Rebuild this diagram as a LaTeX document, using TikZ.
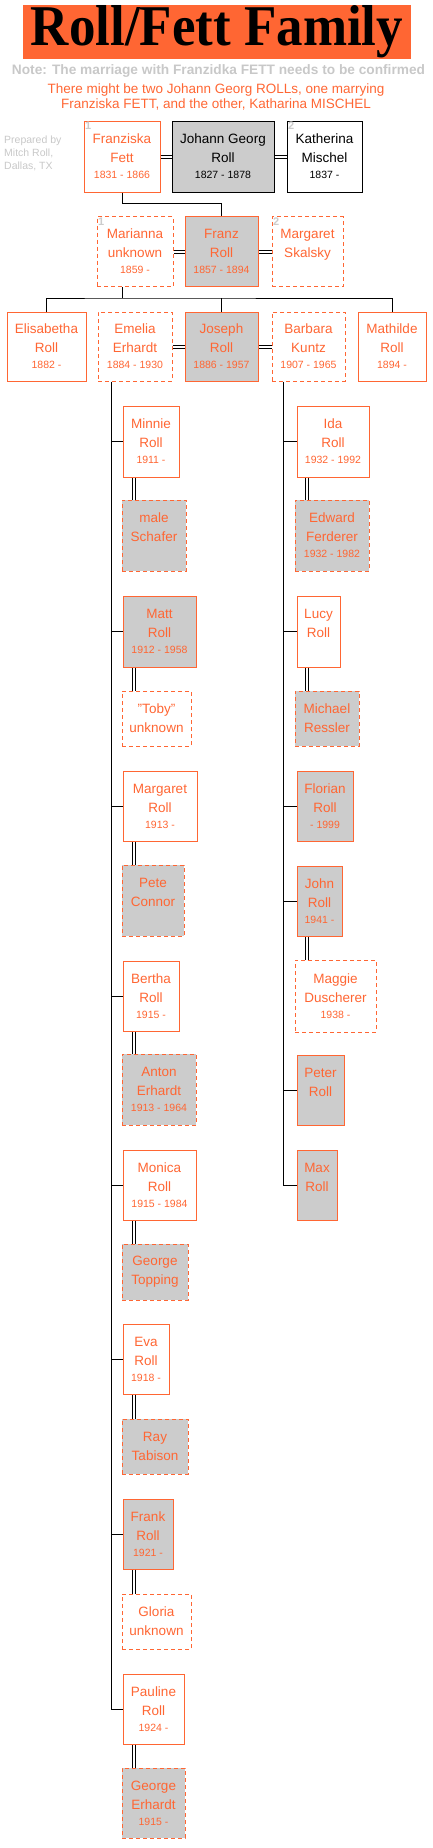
\documentclass[tikz,border=0pt]{standalone}
\usepackage{fontspec}
\setmainfont{Liberation Sans}
\newfontfamily\titlefont{Liberation Serif}
\usepackage{graphicx}

\definecolor{famorange}{HTML}{FF6633}
\definecolor{boxgray}{HTML}{CCCCCC}
\definecolor{notegray}{HTML}{C8C8C8}
\newcommand{\yrs}[1]{{\fontsize{10.5}{13}\selectfont #1}}

\begin{document}
\begin{tikzpicture}[x=1pt, y=-1pt,
			person/.style={draw=famorange, fill=white, text=famorange, line width=1pt, align=center, inner sep=0pt, font=\fontsize{13.5}{19}\selectfont},
			inlaw/.style={person, dash pattern=on 4pt off 3pt},
			heir/.style={fill=boxgray},
			elder/.style={person, draw=black, text=black},
			wifeno/.style={anchor=north west, inner sep=1.5pt, text=boxgray, font=\bfseries\fontsize{11}{11}\selectfont},
			link/.style={line width=1pt},
			wed/.style={double, double distance=2pt, line width=1pt}
			]
			\useasboundingbox (0,0) rectangle (433,1848);
			
			% Heading
			\node[fill=famorange, minimum width=388pt, minimum height=54pt, inner sep=0pt] (title) at (217,32) {\resizebox{372pt}{40pt}{\titlefont\bfseries Roll/Fett Family}};
			\node[text=notegray, inner sep=0pt] (note) at (218.5,71) {\resizebox{413pt}{!}{\bfseries Note: The marriage with Franzidka FETT needs to be confirmed}};
			\node[text=famorange, align=center, inner sep=0pt, font=\fontsize{13.5}{15}\selectfont] (doubt) at (216,96.5) {There might be two Johann Georg ROLLs, one marrying\\Franziska FETT, and the other, Katharina MISCHEL};
			\node[anchor=north west, align=left, inner sep=0pt, text=notegray, font=\fontsize{10.5}{13}\selectfont] (prep) at (4,136) {Prepared by\\Mitch Roll,\\Dallas, TX};
			
			% First generation
			\node[person, minimum width=76pt, minimum height=71pt] (fett) at (122,156.5) {Franziska\\Fett\\[-3pt]\yrs{1831 - 1866}};
			\node[elder, heir, minimum width=102pt, minimum height=71pt] (johann) at (223,156.5) {Johann Georg\\Roll\\[-3pt]\yrs{1827 - 1878}};
			\node[elder, minimum width=75pt, minimum height=71pt] (mischel) at (324.5,156.5) {Katherina\\Mischel\\[-3pt]\yrs{1837 -}};
			\node[wifeno] (no1a) at (fett.north west) {1};
			\node[wifeno] (no2a) at (mischel.north west) {2};
			
			% Second generation
			\node[inlaw, minimum width=76pt, minimum height=70pt] (marianna) at (135,251.5) {Marianna\\unknown\\[-3pt]\yrs{1859 -}};
			\node[person, heir, minimum width=73pt, minimum height=70pt] (franz) at (221.5,251.5) {Franz\\Roll\\[-3pt]\yrs{1857 - 1894}};
			\node[inlaw, minimum width=71pt, minimum height=70pt] (skalsky) at (307.5,251.5) {Margaret\\Skalsky\\[-3pt]\yrs{\mbox{}}};
			\node[wifeno] (no1b) at (marianna.north west) {1};
			\node[wifeno] (no2b) at (skalsky.north west) {2};
			
			% Third generation
			\node[person, minimum width=79pt, minimum height=69pt] (elisabetha) at (46.5,346.5) {Elisabetha\\Roll\\[-3pt]\yrs{1882 -}};
			\node[inlaw, minimum width=74pt, minimum height=69pt] (emelia) at (135,346.5) {Emelia\\Erhardt\\[-3pt]\yrs{1884 - 1930}};
			\node[person, heir, minimum width=73pt, minimum height=69pt] (joseph) at (221.5,346.5) {Joseph\\Roll\\[-3pt]\yrs{1886 - 1957}};
			\node[inlaw, minimum width=73pt, minimum height=69pt] (kuntz) at (308.5,346.5) {Barbara\\Kuntz\\[-3pt]\yrs{1907 - 1965}};
			\node[person, minimum width=68pt, minimum height=69pt] (mathilde) at (392,346.5) {Mathilde\\Roll\\[-3pt]\yrs{1894 -}};
			
			% Children of Emelia
			\node[person, minimum width=56pt, minimum height=71pt] (minnie) at (151,441.5) {Minnie\\Roll\\[-3pt]\yrs{1911 -}};
			\node[inlaw, heir, minimum width=64pt, minimum height=71pt] (schafer) at (154,535.5) {male\\Schafer\\[-3pt]\yrs{\mbox{}}};
			\node[person, heir, minimum width=73pt, minimum height=71pt] (matt) at (159.5,631.5) {Matt\\Roll\\[-3pt]\yrs{1912 - 1958}};
			\node[inlaw, minimum width=69pt, minimum height=55pt] (toby) at (156.5,718.5) {"Toby"\\unknown};
			\node[person, minimum width=74pt, minimum height=70pt] (margaret) at (160,806) {Margaret\\Roll\\[-3pt]\yrs{1913 -}};
			\node[inlaw, heir, minimum width=62pt, minimum height=71pt] (connor) at (153,900.5) {Pete\\Connor\\[-3pt]\yrs{\mbox{}}};
			\node[person, minimum width=56pt, minimum height=70pt] (bertha) at (151,996) {Bertha\\Roll\\[-3pt]\yrs{1915 -}};
			\node[inlaw, heir, minimum width=74pt, minimum height=71pt] (anton) at (159,1089.5) {Anton\\Erhardt\\[-3pt]\yrs{1913 - 1964}};
			\node[person, minimum width=73pt, minimum height=70pt] (monica) at (159.5,1185) {Monica\\Roll\\[-3pt]\yrs{1915 - 1984}};
			\node[inlaw, heir, minimum width=66pt, minimum height=56pt] (topping) at (155,1272) {George\\Topping};
			\node[person, minimum width=46pt, minimum height=70pt] (eva) at (146,1359) {Eva\\Roll\\[-3pt]\yrs{1918 -}};
			\node[inlaw, heir, minimum width=66pt, minimum height=55pt] (tabison) at (155,1446.5) {Ray\\Tabison};
			\node[person, heir, minimum width=50pt, minimum height=70pt] (frank) at (148,1534) {Frank\\Roll\\[-3pt]\yrs{1921 -}};
			\node[inlaw, minimum width=69pt, minimum height=55pt] (gloria) at (156.5,1621.5) {Gloria\\unknown};
			\node[person, minimum width=61pt, minimum height=70pt] (pauline) at (153.5,1709) {Pauline\\Roll\\[-3pt]\yrs{1924 -}};
			\node[inlaw, heir, minimum width=63pt, minimum height=70pt] (gerhardt) at (153.5,1803) {George\\Erhardt\\[-3pt]\yrs{1915 -}};
			
			% Children of Barbara
			\node[person, minimum width=72pt, minimum height=71pt] (ida) at (333,441.5) {Ida\\Roll\\[-3pt]\yrs{1932 - 1992}};
			\node[inlaw, heir, minimum width=74pt, minimum height=71pt] (ferderer) at (332,535.5) {Edward\\Ferderer\\[-3pt]\yrs{1932 - 1982}};
			\node[person, minimum width=43pt, minimum height=71pt] (lucy) at (318.5,631.5) {Lucy\\Roll\\[-3pt]\yrs{\mbox{}}};
			\node[inlaw, heir, minimum width=64pt, minimum height=55pt] (ressler) at (327,718.5) {Michael\\Ressler};
			\node[person, heir, minimum width=56pt, minimum height=70pt] (florian) at (325,806) {Florian\\Roll\\[-3pt]\yrs{- 1999}};
			\node[person, heir, minimum width=45pt, minimum height=70pt] (john) at (319.5,901) {John\\Roll\\[-3pt]\yrs{1941 -}};
			\node[inlaw, minimum width=81pt, minimum height=72pt] (duscherer) at (335.5,996) {Maggie\\Duscherer\\[-3pt]\yrs{1938 -}};
			\node[person, heir, minimum width=47pt, minimum height=70pt] (peter) at (320.5,1090) {Peter\\Roll\\[-3pt]\yrs{\mbox{}}};
			\node[person, heir, minimum width=40pt, minimum height=70pt] (max) at (317,1185) {Max\\Roll\\[-3pt]\yrs{\mbox{}}};
			
			% Marriages
			\draw[wed] (fett) -- (johann);
			\draw[wed] (johann) -- (mischel);
			\draw[wed] (marianna) -- (franz);
			\draw[wed] (franz) -- (skalsky);
			\draw[wed] (emelia) -- (joseph);
			\draw[wed] (joseph) -- (kuntz);
			\foreach \a/\b in {minnie/schafer, matt/toby, margaret/connor, bertha/anton, monica/topping, eva/tabison, frank/gloria, pauline/gerhardt}
				\draw[wed] ([xshift=11.5pt]\a.south west) -- ([xshift=11.5pt]\a.south west |- \b.north);
			\foreach \a/\b in {ida/ferderer, lucy/ressler, john/duscherer}
				\draw[wed] ([xshift=10.5pt]\a.south west) -- ([xshift=10.5pt]\a.south west |- \b.north);
			
			% Descent
			\draw[link] (fett.south) -- ++(0,11) -| (franz.north);
			\draw[link] ([xshift=-13pt]marianna.south) -- ++(0,11) coordinate (fork);
			\draw[link] (elisabetha.north) |- (fork) -| (mathilde.north);
			\draw[link] (joseph.north) -- (joseph.north |- fork);
			\draw[link] ([xshift=-24pt]emelia.south) |- (pauline.west);
			\foreach \kid in {minnie, matt, margaret, bertha, monica, eva, frank}
				\draw[link] (\kid.west) -- ++(-12,0);
			\draw[link] ([xshift=-25.5pt]kuntz.south) |- (max.west);
			\foreach \kid in {ida, lucy, florian, john, peter}
				\draw[link] (\kid.west) -- ++(-14,0);
		\end{tikzpicture}
\end{document}
